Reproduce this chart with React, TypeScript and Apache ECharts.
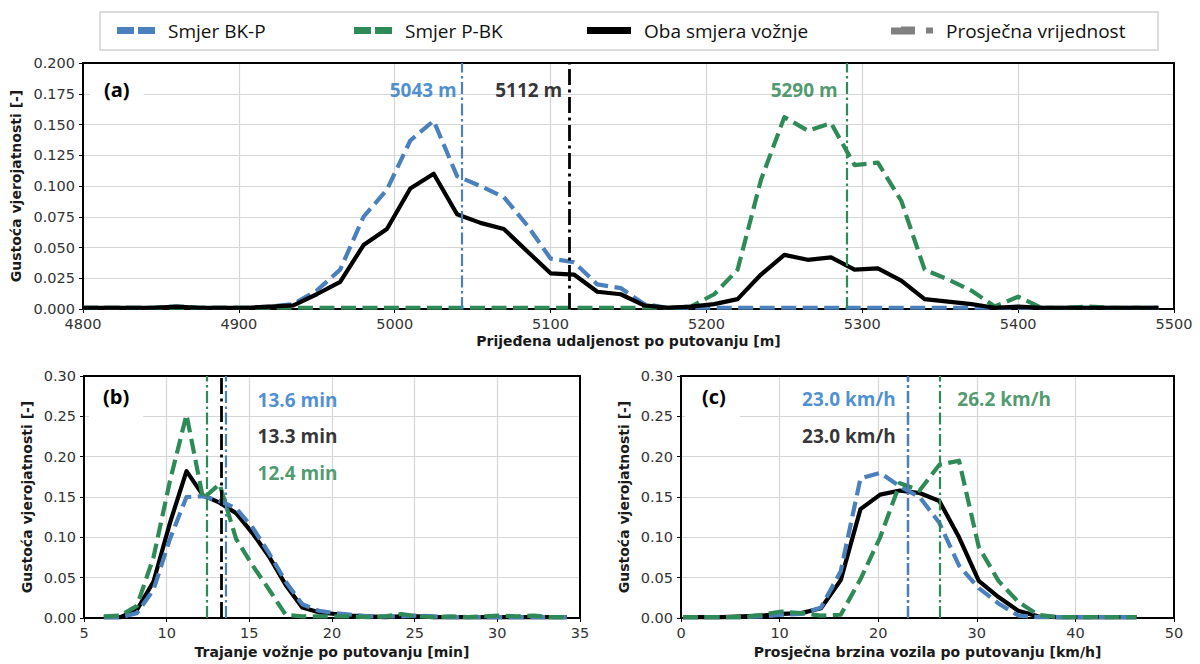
import React, { useEffect, useRef } from 'react';
import * as echarts from 'echarts';

// ---------- Panel (a): distance travelled per trip [m] ----------
const distA = [4800, 4815, 4830, 4845, 4860, 4875, 4890, 4905, 4920, 4935, 4950, 4965, 4980, 4995, 5010, 5025, 5040, 5055, 5070, 5085, 5100, 5115, 5130, 5145, 5160, 5175, 5190, 5205, 5220, 5235, 5250, 5265, 5280, 5295, 5310, 5325, 5340, 5355, 5370, 5385, 5400, 5415, 5430, 5445, 5460, 5475, 5490];
const blueA = [0.001, 0.001, 0.001, 0.001, 0.002, 0.001, 0.001, 0.001, 0.002, 0.004, 0.015, 0.032, 0.075, 0.097, 0.137, 0.153, 0.108, 0.100, 0.091, 0.068, 0.041, 0.038, 0.020, 0.017, 0.004, 0.001, 0.001, 0.001, 0.001, 0.001, 0.001, 0.001, 0.001, 0.001, 0.001, 0.001, 0.001, 0.001, 0.001, 0.001, 0.001, 0.001, 0.001, 0.001, 0.001, 0.001, 0.001];
const greenA = [0.001, 0.001, 0.001, 0.001, 0.001, 0.001, 0.001, 0.001, 0.001, 0.001, 0.001, 0.001, 0.001, 0.001, 0.001, 0.001, 0.001, 0.001, 0.001, 0.001, 0.001, 0.001, 0.001, 0.001, 0.001, 0.001, 0.002, 0.012, 0.032, 0.105, 0.156, 0.145, 0.151, 0.117, 0.119, 0.088, 0.032, 0.024, 0.015, 0.002, 0.010, 0.001, 0.001, 0.002, 0.001, 0.001, 0.001];
const blackA = [0.001, 0.001, 0.001, 0.001, 0.002, 0.001, 0.001, 0.001, 0.002, 0.003, 0.012, 0.022, 0.052, 0.065, 0.098, 0.110, 0.077, 0.070, 0.065, 0.047, 0.029, 0.028, 0.014, 0.012, 0.003, 0.001, 0.002, 0.004, 0.008, 0.028, 0.044, 0.040, 0.042, 0.032, 0.033, 0.023, 0.008, 0.006, 0.004, 0.001, 0.002, 0.001, 0.001, 0.001, 0.001, 0.001, 0.001];
const meanA = { blue: 5043, black: 5112, green: 5290 };

// ---------- Panel (b): trip duration [min] ----------
const timeB = [6.2, 7.2, 8.2, 9.2, 10.2, 11.2, 12.2, 13.2, 14.2, 15.2, 16.2, 17.2, 18.2, 19.2, 20.2, 21.2, 22.2, 23.2, 24.2, 25.2, 26.2, 27.2, 28.2, 29.2, 30.2, 31.2, 32.2, 33.2, 34.2];
const blueB = [0.001, 0.001, 0.006, 0.035, 0.098, 0.150, 0.151, 0.145, 0.136, 0.112, 0.080, 0.045, 0.017, 0.009, 0.006, 0.004, 0.002, 0.002, 0.002, 0.003, 0.002, 0.001, 0.001, 0.001, 0.001, 0.001, 0.001, 0.001, 0.001];
const greenB = [0.002, 0.003, 0.015, 0.075, 0.170, 0.252, 0.148, 0.166, 0.098, 0.065, 0.035, 0.004, 0.002, 0.002, 0.002, 0.002, 0.001, 0.002, 0.005, 0.002, 0.001, 0.002, 0.001, 0.002, 0.003, 0.002, 0.003, 0.001, 0.001];
const blackB = [0.001, 0.001, 0.010, 0.045, 0.118, 0.182, 0.152, 0.143, 0.130, 0.105, 0.076, 0.041, 0.013, 0.007, 0.005, 0.003, 0.002, 0.001, 0.002, 0.002, 0.001, 0.001, 0.001, 0.001, 0.001, 0.001, 0.001, 0.001, 0.001];
const meanB = { blue: 13.6, black: 13.3, green: 12.4 };

// ---------- Panel (c): average speed [km/h] ----------
const speedC = [0.2, 2.2, 4.2, 6.2, 8.2, 10.2, 12.2, 14.2, 16.2, 18.2, 20.2, 22.2, 24.2, 26.2, 28.2, 30.2, 32.2, 34.2, 36.2, 38.2, 40.2, 42.2, 44.2, 46.2];
const blueC = [0.001, 0.001, 0.001, 0.001, 0.002, 0.004, 0.005, 0.013, 0.058, 0.173, 0.180, 0.163, 0.150, 0.118, 0.065, 0.037, 0.018, 0.003, 0.001, 0.001, 0.001, 0.001, 0.001, 0.001];
const greenC = [0.001, 0.001, 0.001, 0.001, 0.004, 0.008, 0.006, 0.003, 0.004, 0.048, 0.100, 0.167, 0.158, 0.190, 0.195, 0.088, 0.046, 0.020, 0.004, 0.001, 0.001, 0.001, 0.001, 0.001];
const blackC = [0.001, 0.001, 0.001, 0.002, 0.003, 0.005, 0.006, 0.012, 0.047, 0.135, 0.153, 0.158, 0.155, 0.145, 0.100, 0.046, 0.026, 0.009, 0.002, 0.001, 0.001, 0.001, 0.001, 0.001];
const meanC = { blue: 23.0, black: 23.0, green: 26.2 };

// ---------- Texts ----------
const seriesNames = ['Smjer BK-P', 'Smjer P-BK', 'Oba smjera vožnje', 'Prosječna vrijednost'];
const xNames = ['Prijeđena udaljenost po putovanju [m]', 'Trajanje vožnje po putovanju [min]', 'Prosječna brzina vozila po putovanju [km/h]'];
const yName = 'Gustoća vjerojatnosti [-]';
const panelLabels = ['(a)', '(b)', '(c)'];

const BLUE = '#4a80bb';
const GREEN = '#2e8a57';
const BLACK = '#000000';
const GREY = '#808080';
const BLUE_T = '#1f74c4';
const GREEN_T = '#23804a';

const DASH = [15, 6.5];
const DASHDOT = [12, 3.5, 2.5, 3.5];

const pairs = (xs: number[], ys: number[]) => xs.map((x, i) => [x, ys[i]]);

function curve(name: string, xs: number[], ys: number[], idx: number, color: string, dashed: boolean, mean: number, meanWidth: number) {
  return {
    type: 'line',
    name,
    xAxisIndex: idx,
    yAxisIndex: idx,
    data: pairs(xs, ys),
    symbol: 'none',
    color,
    lineStyle: { color, width: 4.2, type: dashed ? DASH : 'solid', cap: 'butt', join: 'round' },
    silent: true,
    markLine: {
      silent: true,
      symbol: ['none', 'none'],
      label: { show: false },
      lineStyle: { color, width: meanWidth, type: meanWidth > 2.4 ? [16, 4.5, 3, 4.5] : DASHDOT },
      data: [{ xAxis: mean }],
    },
  };
}

const LABEL_FONT = { fontFamily: 'Open Sans', fontWeight: 'bold' as const, fontSize: 19 };

function annot(idx: number, items: { x: number; y: number; text: string; color: string; pos: string; dist: number }[]) {
  return {
    type: 'scatter',
    xAxisIndex: idx,
    yAxisIndex: idx,
    symbolSize: 0,
    silent: true,
    z: 5,
    data: items.map((it) => ({
      value: [it.x, it.y],
      label: { show: true, formatter: it.text, color: it.color, position: it.pos, distance: it.dist, ...LABEL_FONT },
    })),
  };
}

const axisText = { color: '#333', fontFamily: 'DejaVu Sans', fontSize: 14.5 };
const nameText = { fontFamily: 'DejaVu Sans', fontWeight: 'bold' as const, fontSize: 14, color: '#1a1a1a' };
const splitLine = { show: true, showMinLine: false, showMaxLine: false, lineStyle: { color: '#d6d6d6', width: 1.2 } };
const axisLine = { show: true, onZero: false, lineStyle: { color: '#000', width: 2 } };
const axisTick = { show: true, length: 4, lineStyle: { color: '#000', width: 1 } };

function xMain(idx: number, min: number, max: number, interval: number, gap: number) {
  return {
    type: 'value', gridIndex: idx, min, max, interval, position: 'bottom',
    axisLine, axisTick, splitLine,
    axisLabel: { ...axisText, margin: 7, formatter: (v: number) => String(v) },
    name: xNames[idx], nameLocation: 'middle', nameGap: gap, nameTextStyle: nameText,
  };
}
function yMain(idx: number, max: number, interval: number, digits: number, gap: number) {
  return {
    type: 'value', gridIndex: idx, min: 0, max, interval, position: 'left',
    axisLine, axisTick, splitLine,
    axisLabel: { ...axisText, margin: 8, formatter: (v: number) => v.toFixed(digits) },
    name: yName, nameLocation: 'middle', nameGap: gap, nameTextStyle: nameText,
  };
}
function frame(kind: 'x' | 'y', idx: number) {
  return {
    type: 'value', gridIndex: idx, position: kind === 'x' ? 'top' : 'right',
    axisLine, axisTick: { show: false }, axisLabel: { show: false }, splitLine: { show: false },
  };
}

export default function App() {
  const ref = useRef<HTMLDivElement>(null);
  useEffect(() => {
    if (!ref.current) return;
    const chart = echarts.init(ref.current, undefined, { renderer: 'svg' });
    const legendBase = (left: number) => ({
      left, top: 21, padding: 0, itemGap: 0, selectedMode: false,
      textStyle: { fontFamily: 'Open Sans', fontSize: 19, color: '#111', padding: [0, 0, 0, 8] },
    });
    const option: any = {
      animation: false,
      backgroundColor: '#fff',
      graphic: [
        { type: 'rect', shape: { x: 100, y: 12, width: 1058, height: 38 }, style: { fill: '#fff', stroke: '#dcdcdc', lineWidth: 2 }, z: -1 },
      ],
      legend: [
        { ...legendBase(117), itemWidth: 38, itemHeight: 7, data: [{ name: seriesNames[0], icon: 'path://M0,0H17V7H0Z M21,0H38V7H21Z' }] },
        { ...legendBase(354), itemWidth: 38, itemHeight: 7, data: [{ name: seriesNames[1], icon: 'path://M0,0H17V7H0Z M21,0H38V7H21Z' }] },
        { ...legendBase(587), itemWidth: 44, itemHeight: 7, data: [{ name: seriesNames[2], icon: 'rect' }] },
        { ...legendBase(891), itemWidth: 42, itemHeight: 8, data: [{ name: seriesNames[3], icon: 'path://M0,1H10V0H24V8H0Z M35,1H42V7H35Z' }] },
      ],
      title: [
        { text: panelLabels[0], left: 90, top: 77, padding: [2, 14, 5, 14], backgroundColor: '#fff', textStyle: { fontFamily: 'Open Sans', fontWeight: 'bold', fontSize: 20, color: '#000' } },
        { text: panelLabels[1], left: 89, top: 384, padding: [2, 14, 14, 14], backgroundColor: '#fff', textStyle: { fontFamily: 'Open Sans', fontWeight: 'bold', fontSize: 20, color: '#000' } },
        { text: panelLabels[2], left: 685, top: 384, padding: [2, 14, 14, 17], backgroundColor: '#fff', textStyle: { fontFamily: 'Open Sans', fontWeight: 'bold', fontSize: 20, color: '#000' } },
      ],
      grid: [
        { left: 83, top: 63, width: 1091, height: 246 },
        { left: 84, top: 376, width: 496, height: 242 },
        { left: 681, top: 376, width: 493, height: 242 },
      ],
      xAxis: [
        xMain(0, 4800, 5500, 100, 25),
        xMain(1, 5, 35, 5, 27),
        xMain(2, 0, 50, 10, 27),
        frame('x', 0), frame('x', 1), frame('x', 2),
      ],
      yAxis: [
        yMain(0, 0.2, 0.025, 3, 56),
        yMain(1, 0.3, 0.05, 2, 50),
        yMain(2, 0.3, 0.05, 2, 50),
        frame('y', 0), frame('y', 1), frame('y', 2),
      ],
      series: [
        curve(seriesNames[0], distA, blueA, 0, BLUE, true, meanA.blue, 2.2),
        curve(seriesNames[1], distA, greenA, 0, GREEN, true, meanA.green, 2.2),
        curve(seriesNames[2], distA, blackA, 0, BLACK, false, meanA.black, 2.8),
        curve(seriesNames[2], timeB, blackB, 1, BLACK, false, meanB.black, 2.8),
        curve(seriesNames[0], timeB, blueB, 1, BLUE, true, meanB.blue, 2.2),
        curve(seriesNames[1], timeB, greenB, 1, GREEN, true, meanB.green, 2.2),
        curve(seriesNames[2], speedC, blackC, 2, BLACK, false, meanC.black, 2.2),
        curve(seriesNames[0], speedC, blueC, 2, BLUE, true, meanC.blue, 2.2),
        curve(seriesNames[1], speedC, greenC, 2, GREEN, true, meanC.green, 2.2),
        { type: 'line', name: seriesNames[3], xAxisIndex: 0, yAxisIndex: 0, data: [], color: GREY, symbol: 'none' },
        annot(0, [
          { x: meanA.blue, y: 0.178, text: `${meanA.blue} m`, color: BLUE_T, pos: 'left', dist: 5 },
          { x: meanA.black, y: 0.178, text: `${meanA.black} m`, color: BLACK, pos: 'left', dist: 7 },
          { x: meanA.green, y: 0.178, text: `${meanA.green} m`, color: GREEN_T, pos: 'left', dist: 9 },
        ]),
        annot(1, [
          { x: 15.5, y: 0.270, text: `${meanB.blue.toFixed(1)} min`, color: BLUE_T, pos: 'right', dist: 0 },
          { x: 15.5, y: 0.226, text: `${meanB.black.toFixed(1)} min`, color: BLACK, pos: 'right', dist: 0 },
          { x: 15.5, y: 0.180, text: `${meanB.green.toFixed(1)} min`, color: GREEN_T, pos: 'right', dist: 0 },
        ]),
        annot(2, [
          { x: meanC.blue, y: 0.271, text: `${meanC.blue.toFixed(1)} km/h`, color: BLUE_T, pos: 'left', dist: 12 },
          { x: meanC.black, y: 0.226, text: `${meanC.black.toFixed(1)} km/h`, color: BLACK, pos: 'left', dist: 12 },
          { x: meanC.green, y: 0.271, text: `${meanC.green.toFixed(1)} km/h`, color: GREEN_T, pos: 'right', dist: 18 },
        ]),
      ],
    };
    chart.setOption(option);
    return () => chart.dispose();
  }, []);
  return <div ref={ref} style={{ position: 'absolute', left: 0, top: 0, width: 1200, height: 664 }} />;
}
